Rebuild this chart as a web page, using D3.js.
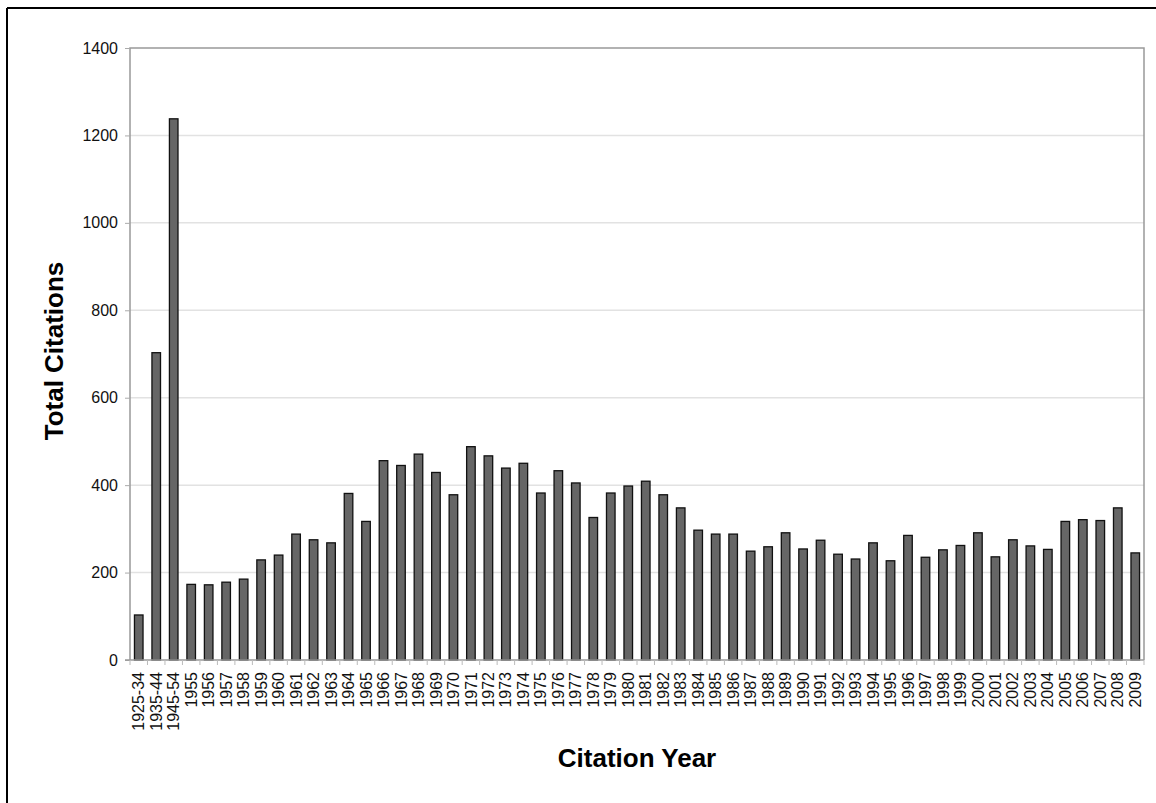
<!DOCTYPE html>
<html>
<head>
<meta charset="utf-8">
<script src="https://cdn.jsdelivr.net/npm/d3@7"></script>
<style>
  body { margin: 0; background: #fff; }
  text { font-family: "Liberation Sans", Arial, sans-serif; }
</style>
</head>
<body>
<div id="chart"></div>
<script>
var categories = ["1925-34","1935-44","1945-54","1955","1956","1957","1958","1959","1960","1961","1962","1963","1964","1965","1966","1967","1968","1969","1970","1971","1972","1973","1974","1975","1976","1977","1978","1979","1980","1981","1982","1983","1984","1985","1986","1987","1988","1989","1990","1991","1992","1993","1994","1995","1996","1997","1998","1999","2000","2001","2002","2003","2004","2005","2006","2007","2008","2009"];
var citations = [103,703,1238,173,172,178,185,229,240,288,275,268,381,317,456,445,471,429,378,488,467,439,450,382,433,405,326,382,398,409,378,348,297,288,288,249,259,291,254,274,242,231,268,227,285,235,252,262,291,236,275,261,253,317,321,319,348,245];
var yTicks = [0,200,400,600,800,1000,1200,1400];

function BarChart(){
    var w = 1156;
    var h = 803;
    var left = 130, right = 1144, top = 48, bottom = 660;

    var svg = d3.select("#chart")
                .append("svg")
                .attr("width", w)
                .attr("height", h);

    // outer frame (only top and left show in the picture)
    svg.append("line").attr("x1", 7).attr("x2", w).attr("y1", 8).attr("y2", 8)
        .attr("stroke", "#000").attr("stroke-width", 2);
    svg.append("line").attr("x1", 7).attr("x2", 7).attr("y1", 8).attr("y2", h)
        .attr("stroke", "#000").attr("stroke-width", 2);

    var x = d3.scaleBand()
                .domain(categories)
                .range([left, right])
                .paddingInner(0.51)
                .paddingOuter(0.255);

    var y = d3.scaleLinear()
                .domain([0, 1400])
                .range([bottom, top]);

    // gridlines
    svg.append("g")
        .selectAll("line")
        .data(yTicks.slice(1, -1))
        .enter()
        .append("line")
        .attr("x1", left).attr("x2", right)
        .attr("y1", function(d){ return y(d); })
        .attr("y2", function(d){ return y(d); })
        .attr("stroke", "#e2e2e2")
        .attr("stroke-width", 1.5);

    // plot border
    svg.append("path")
        .attr("d", "M" + left + "," + bottom + "V" + top + "H" + right + "V" + bottom)
        .attr("fill", "none")
        .attr("stroke", "#999")
        .attr("stroke-width", 1.5);

    // y axis
    var yAxis = d3.axisLeft(y)
                    .tickValues(yTicks)
                    .tickFormat(d3.format("d"))
                    .tickSize(5)
                    .tickPadding(7);
    var gy = svg.append("g")
        .attr("transform", "translate(" + left + ",0)")
        .call(yAxis);
    gy.select(".domain").remove();
    gy.selectAll(".tick line").attr("stroke", "#aaa");
    gy.selectAll(".tick text").attr("font-size", "16px").attr("fill", "#111");

    // bars
    svg.append("g")
        .selectAll("rect")
        .data(citations)
        .enter()
        .append("rect")
        .attr("x", function(d, i){ return x(categories[i]); })
        .attr("y", function(d){ return y(d); })
        .attr("width", x.bandwidth())
        .attr("height", function(d){ return y(0) - y(d); })
        .attr("fill", "#666")
        .attr("stroke", "#111")
        .attr("stroke-width", 1.3);

    // x axis line + ticks at band boundaries
    var bounds = d3.range(categories.length + 1).map(function(i){ return left + i * (right - left) / categories.length; });
    svg.append("line")
        .attr("x1", left - 5).attr("x2", right)
        .attr("y1", bottom).attr("y2", bottom)
        .attr("stroke", "#999").attr("stroke-width", 1.5);
    svg.append("g")
        .selectAll("line")
        .data(bounds)
        .enter()
        .append("line")
        .attr("x1", function(d){ return d; })
        .attr("x2", function(d){ return d; })
        .attr("y1", bottom).attr("y2", bottom + 5)
        .attr("stroke", "#bbb");

    // x labels, rotated
    svg.append("g")
        .selectAll("text")
        .data(categories)
        .enter()
        .append("text")
        .text(function(d){ return d; })
        .attr("transform", function(d){
            return "translate(" + (x(d) + x.bandwidth() / 2) + "," + 672 + ") rotate(-90)";
        })
        .attr("text-anchor", "end")
        .attr("dy", "0.35em")
        .attr("font-size", "16px")
        .attr("fill", "#111");

    // axis titles
    svg.append("text")
        .text("Total Citations")
        .attr("transform", "translate(63,351) rotate(-90)")
        .attr("text-anchor", "middle")
        .attr("font-size", "26px")
        .attr("font-weight", "bold");

    svg.append("text")
        .text("Citation Year")
        .attr("x", 637)
        .attr("y", 767)
        .attr("text-anchor", "middle")
        .attr("font-size", "26px")
        .attr("font-weight", "bold");
}

window.onload = BarChart();
</script>
</body>
</html>
